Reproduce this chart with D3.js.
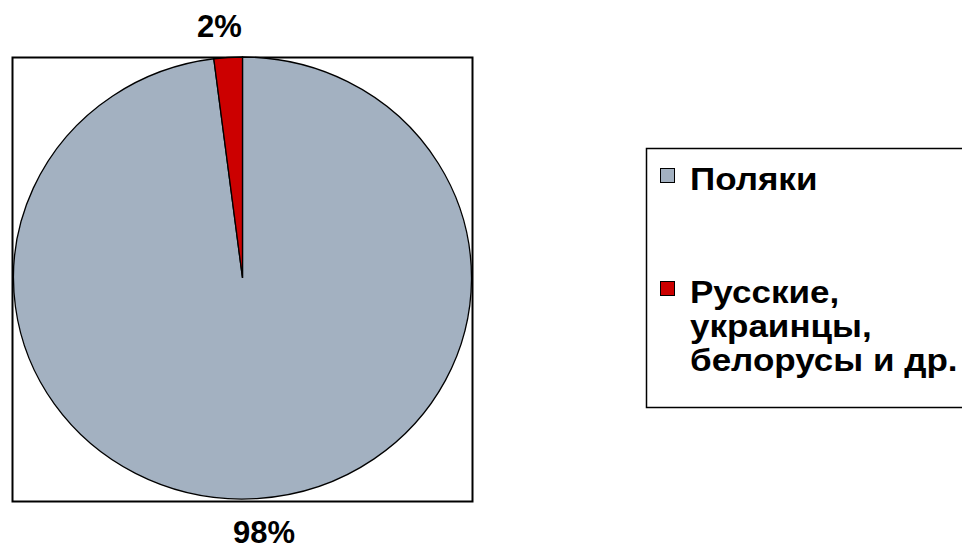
<!DOCTYPE html>
<html>
<head>
<meta charset="utf-8">
<script src="https://cdn.jsdelivr.net/npm/d3@7"></script>
<style>
	body{margin:0;background:#fff;}
	text{font-family:"Liberation Sans",Arial,sans-serif;font-weight:bold;fill:#000;}
</style>
</head>
<body>
<div id="chart"></div>
<script>
var categories = ["Поляки", "Русские, украинцы, белорусы и др."];
var legendLines = [["Поляки"], ["Русские,", "украинцы,", "белорусы и др."]];
var values = [98, 2];
var colors = ["#a3b1c1", "#cc0000"];

(function(){
	var width = 962,
	height = 552;

	var svg = d3.select("#chart")
	.append("svg")
	.attr("width", width)
	.attr("height", height)

	// plot area frame
	svg.append("rect")
	.attr("x", 12.5).attr("y", 57.5)
	.attr("width", 460).attr("height", 444)
	.attr("fill", "none")
	.attr("stroke", "#000")
	.attr("stroke-width", 2)

	var cx = 242.5, cy = 278, rx = 229, ry = 221;

	var pie = d3.pie().sort(null).value(function(d){ return d; })
	var arcs = pie(values)
	var arc = d3.arc().innerRadius(0).outerRadius(rx)

	var g = svg.append("g")
	.attr("transform", "translate(" + cx + "," + cy + ") scale(1," + (ry/rx) + ")")

	g.selectAll(".slice")
	.data(arcs)
	.enter().append("path")
	.attr("class", "slice")
	.attr("d", arc)
	.attr("fill", function(d, i){ return colors[i]; })
	.attr("stroke", "#000")
	.attr("stroke-width", 1.3)
	.attr("vector-effect", "non-scaling-stroke")

	// percentage labels
	var total = d3.sum(values)
	var labelPos = [[264, 543], [219.5, 37]]
	svg.selectAll(".pct")
	.data(arcs)
	.enter().append("text")
	.attr("class", "pct")
	.attr("x", function(d, i){ return labelPos[i][0]; })
	.attr("y", function(d, i){ return labelPos[i][1]; })
	.attr("text-anchor", "middle")
	.style("font-size", "31px")
	.text(function(d){ return Math.round(d.value / total * 100) + "%"; })

	// legend
	var lg = svg.append("g")
	svg.append("rect")
	.attr("x", 646.5).attr("y", 148.5)
	.attr("width", 330).attr("height", 259)
	.attr("fill", "none")
	.attr("stroke", "#000")
	.attr("stroke-width", 1.5)

	var rowY = [190, 303]
	var item = lg.selectAll(".item")
	.data(categories)
	.enter().append("g")
	.attr("class", "item")

	item.append("rect")
	.attr("x", 660.5)
	.attr("y", function(d, i){ return rowY[i] - 21.5; })
	.attr("width", 14).attr("height", 14)
	.attr("fill", function(d, i){ return colors[i]; })
	.attr("stroke", "#000")
	.attr("stroke-width", 1)

	item.append("text")
	.attr("transform", function(d, i){ return "translate(690," + rowY[i] + ") scale(1.13,1)"; })
	.style("font-size", "31px")
	.selectAll("tspan")
	.data(function(d, i){ return legendLines[i]; })
	.enter().append("tspan")
	.attr("x", 0)
	.attr("dy", function(d, j){ return j === 0 ? 0 : 34; })
	.text(function(d){ return d; })
})();
</script>
</body>
</html>
